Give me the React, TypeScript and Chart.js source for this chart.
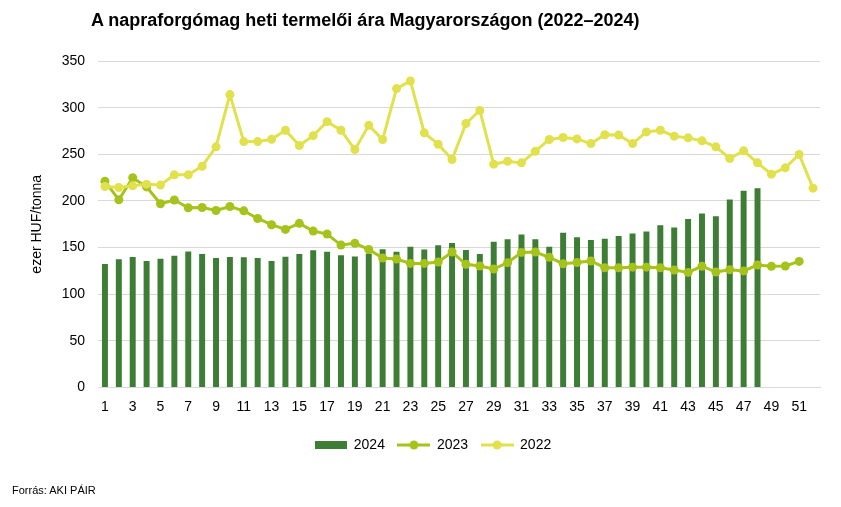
import React, { useEffect, useRef } from "react";
import { Chart, registerables } from "chart.js";

Chart.register(...registerables);

const weeks: string[] = [
  "1", "2", "3", "4", "5", "6", "7", "8", "9", "10",
  "11", "12", "13", "14", "15", "16", "17", "18", "19", "20",
  "21", "22", "23", "24", "25", "26", "27", "28", "29", "30",
  "31", "32", "33", "34", "35", "36", "37", "38", "39", "40",
  "41", "42", "43", "44", "45", "46", "47", "48", "49", "50",
  "51", "52",
];

const price2024: number[] = [
  132.4, 137.4, 139.8, 135.6, 138, 141.3, 145.9, 143, 138.8, 139.8,
  139.5, 138.8, 135.6, 140.2, 143, 147, 145.4, 141.9, 140.4, 143.6,
  148.3, 145.4, 150.8, 148, 152.6, 154.8, 147.3, 143, 156.3, 159,
  164, 159, 151, 166, 161, 158, 159.4, 162.3, 165.2, 167.3,
  174, 171.6, 180.5, 186.6, 183.7, 201.6, 210.8, 213.7,
];

const price2023: number[] = [
  221.2, 201.2, 224.8, 215, 197, 201, 192.6, 193, 189.8, 194,
  189.4, 181.2, 174.5, 169.5, 176, 167.7, 164.5, 152.7, 154.5, 148,
  138.8, 137.7, 133, 133, 134.5, 145.2, 132, 130.2, 127, 133.8,
  144.8, 145.2, 139.5, 132.7, 134, 135.6, 128.4, 128.4, 129, 129,
  128.4, 126, 123.4, 130, 123.8, 126.3, 125, 131.3, 130, 130.2,
  135.2,
];

const price2022: number[] = [
  215.5, 214.4, 216.2, 218, 217, 228, 228, 237.2, 258, 314,
  263.6, 263.6, 266, 275.8, 259.4, 270, 285, 275.8, 255, 281,
  265.8, 320.4, 328.6, 273, 260.8, 244.4, 283, 297, 239.4, 242.6,
  240.8, 253.3, 265.8, 268, 266.5, 261.5, 271, 270.7, 261.5, 274,
  275.8, 269.4, 267.6, 264.4, 258, 245.5, 253.7, 240.8, 228.7, 235.5,
  249.8, 213.7,
];

const seriesNames: string[] = ["2024", "2023", "2022"];
const yTicks: number[] = [0, 50, 100, 150, 200, 250, 300, 350];

const TITLE = "A napraforgómag heti termelői ára Magyarországon (2022–2024)";
const Y_TITLE = "ezer HUF/tonna";
const SOURCE = "Forrás: AKI PÁIR";

const C2024 = "#3e7d35";
const C2023 = "#a6c31b";
const C2022 = "#e1e14d";
const FONT = "'Liberation Sans', Arial, sans-serif";

function barIcon(color: string): HTMLCanvasElement {
  const c = document.createElement("canvas");
  c.width = 32;
  c.height = 8;
  const ctx = c.getContext("2d")!;
  ctx.fillStyle = color;
  ctx.fillRect(0, 0, 32, 8);
  return c;
}

function lineIcon(color: string): HTMLCanvasElement {
  const c = document.createElement("canvas");
  c.width = 33;
  c.height = 10;
  const ctx = c.getContext("2d")!;
  ctx.strokeStyle = color;
  ctx.lineWidth = 3;
  ctx.beginPath();
  ctx.moveTo(0, 5);
  ctx.lineTo(33, 5);
  ctx.stroke();
  ctx.fillStyle = color;
  ctx.beginPath();
  ctx.arc(16.5, 5, 4.5, 0, Math.PI * 2);
  ctx.fill();
  return c;
}

export default function App() {
  const ref = useRef<HTMLCanvasElement | null>(null);

  useEffect(() => {
    if (!ref.current) return;
    const icons = [barIcon(C2024), lineIcon(C2023), lineIcon(C2022)];
    const colors = [C2024, C2023, C2022];
    const chart = new Chart(ref.current, {
      type: "bar",
      data: {
        labels: weeks,
        datasets: [
          {
            type: "bar",
            label: seriesNames[0],
            data: price2024,
            backgroundColor: C2024,
            borderWidth: 0,
            categoryPercentage: 1,
            barPercentage: 0.43,
            order: 3,
          },
          {
            type: "line",
            label: seriesNames[1],
            data: price2023,
            borderColor: C2023,
            backgroundColor: C2023,
            borderWidth: 3,
            pointRadius: 4.5,
            pointBorderWidth: 0,
            pointBackgroundColor: C2023,
            tension: 0,
            order: 2,
          },
          {
            type: "line",
            label: seriesNames[2],
            data: price2022,
            borderColor: C2022,
            backgroundColor: C2022,
            borderWidth: 3,
            pointRadius: 4.5,
            pointBorderWidth: 0,
            pointBackgroundColor: C2022,
            tension: 0,
            order: 1,
          },
        ] as any,
      },
      options: {
        animation: false,
        responsive: false,
        devicePixelRatio: 1,
        layout: { padding: { left: 46, right: 21, top: 61, bottom: 45 } },
        plugins: {
          title: { display: false },
          tooltip: { enabled: false },
          legend: {
            display: true,
            position: "bottom",
            labels: {
              usePointStyle: true,
              pointStyleWidth: 32,
              boxHeight: 10,
              padding: 13,
              color: "#000",
              font: { family: FONT, size: 14 },
              generateLabels: () =>
                seriesNames.map((name, i) => ({
                  text: name,
                  pointStyle: icons[i] as any,
                  fillStyle: colors[i],
                  strokeStyle: colors[i],
                  lineWidth: 0,
                  hidden: false,
                  datasetIndex: i,
                  fontColor: "#000",
                })),
            },
          },
        },
        scales: {
          x: {
            type: "category",
            offset: true,
            grid: { display: false, drawTicks: false },
            border: { display: true, color: "#d9d9d9", width: 1 },
            ticks: {
              autoSkip: false,
              maxRotation: 0,
              minRotation: 0,
              padding: 11,
              color: "#000",
              font: { family: FONT, size: 14 },
              callback: (_v: any, i: number) => (i % 2 === 0 ? weeks[i] : ""),
            },
            afterFit: (s: any) => {
              s.height = 37.5;
            },
          },
          y: {
            min: 0,
            max: 350,
            grid: { color: "#d9d9d9", lineWidth: 1, drawTicks: false },
            border: { display: false },
            afterBuildTicks: (s: any) => {
              s.ticks = yTicks.map((v) => ({ value: v }));
            },
            ticks: {
              padding: 13,
              color: "#000",
              font: { family: FONT, size: 14 },
            },
            title: {
              display: true,
              text: Y_TITLE,
              color: "#000",
              font: { family: FONT, size: 14 },
              padding: { top: -17.4, bottom: 0 },
            },
            afterFit: (s: any) => {
              s.width = 52;
            },
          },
        },
      },
    });
    return () => chart.destroy();
  }, []);

  return (
    <div
      style={{
        position: "fixed",
        left: 0,
        top: 0,
        width: 841,
        height: 507,
        background: "#fff",
        overflow: "hidden",
      }}
    >
      <canvas ref={ref} width={841} height={507} style={{ position: "absolute", left: 0, top: 0 }} />
      <div
        style={{
          position: "absolute",
          left: 91,
          top: 10.8,
          fontFamily: FONT,
          fontWeight: "bold",
          fontSize: 18,
          lineHeight: "18px",
          color: "#000",
          whiteSpace: "nowrap",
        }}
      >
        {TITLE}
      </div>
      <div
        style={{
          position: "absolute",
          left: 12,
          top: 485,
          fontFamily: FONT,
          fontSize: 11,
          lineHeight: "11px",
          color: "#000",
          whiteSpace: "nowrap",
        }}
      >
        {SOURCE}
      </div>
    </div>
  );
}
